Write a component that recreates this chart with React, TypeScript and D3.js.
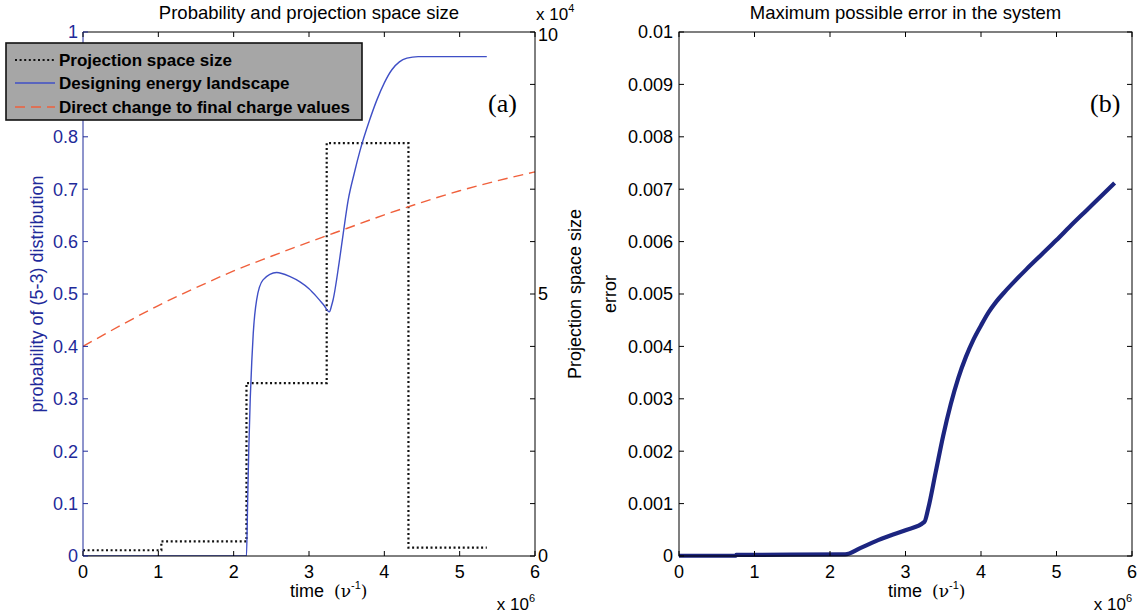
import React from "react";
import * as d3 from "d3";

// ---------- data ----------
const X_TICKS = [0, 1, 2, 3, 4, 5, 6];
const PROB_TICKS = [0, 0.1, 0.2, 0.3, 0.4, 0.5, 0.6, 0.7, 0.8, 0.9, 1];
const PROB_LABELS = ["0", "0.1", "0.2", "0.3", "0.4", "0.5", "0.6", "0.7", "0.8", "0.9", "1"];
const PROB_HIDDEN = ["0.9"]; // covered by the legend in the reference
const PROJ_TICKS = [0, 1, 2, 3, 4, 5, 6, 7, 8, 9, 10];
const PROJ_LABELED = [0, 5, 10];
const ERR_TICKS = [0, 0.001, 0.002, 0.003, 0.004, 0.005, 0.006, 0.007, 0.008, 0.009, 0.01];
const ERR_LABELS = ["0", "0.001", "0.002", "0.003", "0.004", "0.005", "0.006", "0.007", "0.008", "0.009", "0.01"];

// Designing energy landscape (time x1e6, probability)
const blueT = [0, 2.17, 2.185, 2.2, 2.22, 2.24, 2.26, 2.305, 2.39, 2.57, 2.75, 2.88, 3.0, 3.1, 3.2, 3.27, 3.3, 3.32, 3.4, 3.455, 3.52, 3.6, 3.68, 3.8, 3.9, 4.0, 4.1, 4.2, 4.3, 4.45, 5.36];
const blueP = [0, 0, 0.1, 0.2, 0.3, 0.37, 0.425, 0.489, 0.527, 0.541, 0.533, 0.523, 0.51, 0.495, 0.478, 0.466, 0.478, 0.489, 0.56, 0.616, 0.679, 0.73, 0.775, 0.83, 0.87, 0.903, 0.928, 0.943, 0.95, 0.953, 0.953];

// Direct change to final charge values
const redT = [0, 0.5, 1, 1.5, 2, 2.5, 3, 3.5, 4, 4.5, 5, 5.5, 6];
const redP = [0.4, 0.44, 0.478, 0.512, 0.544, 0.572, 0.599, 0.625, 0.651, 0.675, 0.697, 0.716, 0.733];

// Projection space size (step function)
const stepEdges = [0, 1.04, 2.17, 3.235, 4.32, 5.36];
const stepValues = [1100, 2800, 33000, 78800, 1600];

// Maximum possible error
const errT = [0, 0.75, 0.76, 2.2, 2.4, 2.6, 2.8, 3.0, 3.25, 3.3, 3.4, 3.5, 3.6, 3.7, 3.8, 3.9, 4.0, 4.1, 4.2, 4.32, 4.45, 4.6, 4.8, 5.0, 5.2, 5.4, 5.6, 5.77];
const errV = [0.000005, 0.000005, 0.00002, 0.00003, 0.00015, 0.00028, 0.00039, 0.00049, 0.00065, 0.0009, 0.0016, 0.0023, 0.0029, 0.0034, 0.0038, 0.00413, 0.0044, 0.00465, 0.00485, 0.00505, 0.00525, 0.00547, 0.00575, 0.00603, 0.00632, 0.0066, 0.00688, 0.00712];

// ---------- layout ----------
const FONT = "'Liberation Sans', Arial, Helvetica, sans-serif";
const TOP = 32;
const BOTTOM = 556;
const LX0 = 83, LX1 = 535;
const RX0 = 679, RX1 = 1132;
const TICK = 5;
const BLUE_AXIS = "#1f2a9a";

export default function App() {
  const xL = d3.scaleLinear().domain([0, 6]).range([LX0, LX1]);
  const xR = d3.scaleLinear().domain([0, 6]).range([RX0, RX1]);
  const yP = d3.scaleLinear().domain([0, 1]).range([BOTTOM, TOP]);
  const yS = d3.scaleLinear().domain([0, 100000]).range([BOTTOM, TOP]);
  const yE = d3.scaleLinear().domain([0, 0.01]).range([BOTTOM, TOP]);

  const blueLine = d3.line<number>().x((_, i) => xL(blueT[i])).y((d) => yP(d)).curve(d3.curveMonotoneX)(blueP) || "";
  const redLine = d3.line<number>().x((_, i) => xL(redT[i])).y((d) => yP(d)).curve(d3.curveMonotoneX)(redP) || "";
  const stepPts: [number, number][] = stepValues.map((v, i) => [stepEdges[i], v]);
  stepPts.push([stepEdges[stepEdges.length - 1], stepValues[stepValues.length - 1]]);
  const stepLine = d3.line<[number, number]>().x((d) => xL(d[0])).y((d) => yS(d[1])).curve(d3.curveStepAfter)(stepPts) || "";
  const errLine = d3.line<number>().x((_, i) => xR(errT[i])).y((d) => yE(d)).curve(d3.curveMonotoneX)(errV) || "";

  const tickFont = 18;

  const xAxis = (xs: d3.ScaleLinear<number, number>) =>
    X_TICKS.map((t) => (
      <g key={"xt" + t}>
        <line x1={xs(t)} x2={xs(t)} y1={BOTTOM} y2={BOTTOM - TICK} stroke="#000" />
        <line x1={xs(t)} x2={xs(t)} y1={TOP} y2={TOP + TICK} stroke="#000" />
        <text x={xs(t)} y={578} textAnchor="middle" fontSize={tickFont}>{t}</text>
      </g>
    ));

  const timeLabel = (x: number) => (
    <text x={x} y={597} fontSize={18}>
      time{"\u00A0\u00A0"}<tspan fontFamily="'DejaVu Serif', serif" fontSize={17}>(ν</tspan>
      <tspan dy={-8} fontSize={11}>-1</tspan>
      <tspan dy={8} fontFamily="'DejaVu Serif', serif" fontSize={17}>)</tspan>
    </text>
  );

  const expLabel = (x: number, y: number, exp: string, anchor: string) => (
    <text x={x} y={y} fontSize={17} textAnchor={anchor}>
      x 10<tspan dy={-8} fontSize={11}>{exp}</tspan>
    </text>
  );

  return (
    <svg width={1146} height={613} style={{ position: "absolute", left: 0, top: 0, background: "#fff" }} fontFamily={FONT}>
      <rect x={0} y={0} width={1146} height={613} fill="#fff" />

      {/* ---------------- Left panel ---------------- */}
      <text x={(LX0 + LX1) / 2} y={19} textAnchor="middle" fontSize={18.5}>Probability and projection space size</text>

      <clipPath id="clipL"><rect x={LX0} y={TOP} width={LX1 - LX0} height={BOTTOM - TOP} /></clipPath>
      <g clipPath="url(#clipL)">
        <path d={stepLine} fill="none" stroke="#111" strokeWidth={2.2} strokeDasharray="2,2.6" />
        <path d={redLine} fill="none" stroke="#f0603c" strokeWidth={1.4} strokeDasharray="10,6" />
        <path d={blueLine} fill="none" stroke="#3f4fc6" strokeWidth={1.4} />
      </g>

      {/* frame */}
      <line x1={LX0} x2={LX1} y1={TOP} y2={TOP} stroke="#000" />
      <line x1={LX0} x2={LX1} y1={BOTTOM} y2={BOTTOM} stroke="#000" />
      <line x1={LX1} x2={LX1} y1={TOP} y2={BOTTOM} stroke="#000" />
      <line x1={LX0} x2={LX0} y1={TOP} y2={BOTTOM} stroke={BLUE_AXIS} />
      {xAxis(xL)}

      {PROB_TICKS.map((t, i) => (
        <g key={"pt" + i}>
          <line x1={LX0} x2={LX0 + TICK} y1={yP(t)} y2={yP(t)} stroke={BLUE_AXIS} />
          {!PROB_HIDDEN.includes(PROB_LABELS[i]) && (
            <text x={LX0 - 5} y={yP(t)} dy="0.35em" textAnchor="end" fontSize={tickFont} fill={BLUE_AXIS}>{PROB_LABELS[i]}</text>
          )}
        </g>
      ))}
      {PROJ_TICKS.map((t) => (
        <g key={"st" + t}>
          <line x1={LX1} x2={LX1 - TICK} y1={yS(t * 10000)} y2={yS(t * 10000)} stroke="#000" />
          {PROJ_LABELED.includes(t) && (
            <text x={LX1 + 3} y={yS(t * 10000) + (t === 10 ? 3 : 0)} dy="0.35em" fontSize={tickFont}>{t}</text>
          )}
        </g>
      ))}
      {expLabel(LX1 + 1, 20, "4", "start")}

      <text transform={`translate(43,${(TOP + BOTTOM) / 2}) rotate(-90)`} textAnchor="middle" fontSize={18} fill={BLUE_AXIS}>
        probability of (5-3) distribution
      </text>
      <text transform={`translate(581,${(TOP + BOTTOM) / 2}) rotate(-90)`} textAnchor="middle" fontSize={18}>
        Projection space size
      </text>
      {timeLabel(290)}
      {expLabel(LX1, 610, "6", "end")}
      <text x={488} y={112} fontSize={26} fontFamily="'Liberation Serif', 'Times New Roman', serif">(a)</text>

      {/* legend */}
      <g>
        <rect x={6} y={43} width={356} height={77} fill="#a6a6a6" stroke="#111" strokeWidth={1.6} />
        <line x1={15} x2={55} y1={60} y2={60} stroke="#111" strokeWidth={2} strokeDasharray="2,2.6" />
        <line x1={15} x2={55} y1={83} y2={83} stroke="#3f4fc6" strokeWidth={1.4} />
        <line x1={15} x2={55} y1={107} y2={107} stroke="#f0603c" strokeWidth={1.4} strokeDasharray="10,6" />
        <text x={59} y={66} fontSize={17} fontWeight="bold">Projection space size</text>
        <text x={59} y={89} fontSize={17} fontWeight="bold">Designing energy landscape</text>
        <text x={59} y={113} fontSize={17} fontWeight="bold">Direct change to final charge values</text>
      </g>

      {/* ---------------- Right panel ---------------- */}
      <text x={(RX0 + RX1) / 2} y={19} textAnchor="middle" fontSize={18.5}>Maximum possible error in the system</text>

      <clipPath id="clipR"><rect x={RX0 - 3} y={TOP} width={RX1 - RX0 + 3} height={BOTTOM - TOP + 3} /></clipPath>
      <g clipPath="url(#clipR)">
        <path d={errLine} fill="none" stroke="#1c2580" strokeWidth={4.2} strokeLinejoin="round" />
      </g>

      <rect x={RX0} y={TOP} width={RX1 - RX0} height={BOTTOM - TOP} fill="none" stroke="#000" />
      {xAxis(xR)}
      {ERR_TICKS.map((t, i) => (
        <g key={"et" + i}>
          <line x1={RX0} x2={RX0 + TICK} y1={yE(t)} y2={yE(t)} stroke="#000" />
          <line x1={RX1} x2={RX1 - TICK} y1={yE(t)} y2={yE(t)} stroke="#000" />
          <text x={RX0 - 6} y={yE(t)} dy="0.35em" textAnchor="end" fontSize={tickFont}>{ERR_LABELS[i]}</text>
        </g>
      ))}
      <text transform={`translate(616,${(TOP + BOTTOM) / 2}) rotate(-90)`} textAnchor="middle" fontSize={18}>
        error
      </text>
      {timeLabel(888)}
      {expLabel(RX1, 610, "6", "end")}
      <text x={1090} y={112} fontSize={26} fontFamily="'Liberation Serif', 'Times New Roman', serif">(b)</text>
    </svg>
  );
}
